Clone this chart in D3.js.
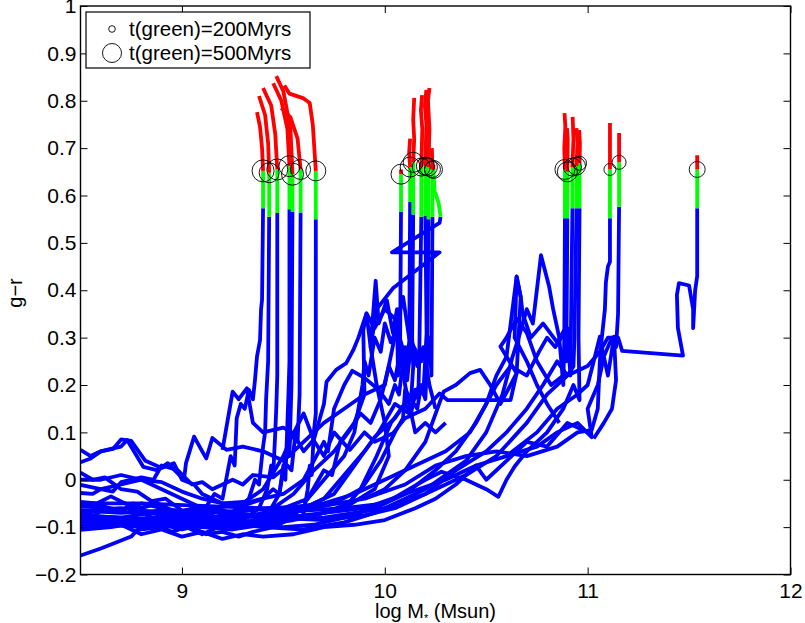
<!DOCTYPE html>
<html>
<head>
<meta charset="utf-8">
<script src="https://cdn.jsdelivr.net/npm/d3@7"></script>
<style>
  body { margin: 0; background: #fff; }
  svg text { font-family: "Liberation Sans", Arial, Helvetica, sans-serif; }
</style>
</head>
<body>
<div id="chart"></div>
<script>
// tick values
var xTicks = [9, 10, 11, 12];
var yTicks = [-0.2, -0.1, 0, 0.1, 0.2, 0.3, 0.4, 0.5, 0.6, 0.7, 0.8, 0.9, 1];

// legend
var legendLabels = ["t(green)=200Myrs", "t(green)=500Myrs"];
var legendRadius = [3.3, 9.5];

// blue part of every quenching track (log M*, g-r)
var bluePts = [
  // group near 9.4-9.66
  [[8.5,-0.07],[8.57,-0.075],[8.62,-0.06],[8.7,-0.065],[8.76,-0.05],[8.83,-0.075],[8.9,-0.065],[8.97,-0.08],[9.05,-0.06],[9.1,-0.07],[9.16,-0.03],[9.2,-0.04],[9.24,0.05],[9.26,0.03],[9.27,0.13],[9.29,0.16],[9.31,0.15],[9.33,0.19],[9.35,0.17],[9.36,0.21],[9.37,0.26],[9.385,0.295],[9.39,0.36],[9.395,0.38],[9.40,0.573]],
  [[8.5,0.015],[8.56,0.0],[8.62,0.005],[8.7,-0.02],[8.78,-0.025],[8.85,-0.045],[8.92,-0.04],[9.0,-0.065],[9.08,-0.06],[9.15,-0.08],[9.22,-0.075],[9.28,-0.06],[9.33,-0.04],[9.36,0.0],[9.38,-0.01],[9.40,0.07],[9.41,0.1],[9.415,0.17],[9.425,0.25],[9.43,0.555]],
  [[8.5,-0.1],[8.58,-0.09],[8.65,-0.095],[8.72,-0.085],[8.8,-0.1],[8.88,-0.095],[8.95,-0.11],[9.02,-0.1],[9.1,-0.115],[9.18,-0.1],[9.25,-0.095],[9.32,-0.08],[9.38,-0.06],[9.42,-0.02],[9.44,0.03],[9.45,0.01],[9.46,0.1],[9.465,0.15],[9.47,0.22],[9.47,0.563]],
  [[8.5,-0.047],[8.58,-0.05],[8.65,-0.035],[8.72,-0.05],[8.8,-0.06],[8.88,-0.05],[8.95,-0.065],[9.05,-0.075],[9.12,-0.07],[9.2,-0.085],[9.3,-0.075],[9.38,-0.08],[9.44,-0.06],[9.48,-0.03],[9.5,0.03],[9.51,0.0],[9.52,0.12],[9.525,0.18],[9.53,0.25],[9.53,0.571]],
  [[8.5,0.037],[8.55,0.045],[8.6,0.06],[8.66,0.065],[8.7,0.085],[8.75,0.082],[8.82,0.04],[8.9,0.025],[8.96,0.035],[9.0,0.0],[9.06,-0.01],[9.1,-0.03],[9.2,-0.05],[9.3,-0.055],[9.4,-0.04],[9.45,-0.02],[9.48,-0.03],[9.5,0.02],[9.52,0.07],[9.53,0.05],[9.54,0.2],[9.545,0.565]],
  [[8.5,-0.028],[8.56,-0.03],[8.6,-0.02],[8.66,-0.025],[8.7,-0.005],[8.8,0.005],[8.86,0.0],[8.9,0.03],[8.98,0.02],[9.05,-0.01],[9.1,-0.005],[9.15,-0.02],[9.25,0.0],[9.3,-0.01],[9.35,0.01],[9.45,0.005],[9.52,0.03],[9.54,0.02],[9.56,0.1],[9.57,0.08],[9.58,0.18],[9.585,0.564]],
  [[8.5,-0.085],[8.6,-0.08],[8.68,-0.09],[8.75,-0.085],[8.82,-0.1],[8.9,-0.095],[9.0,-0.105],[9.05,-0.1],[9.12,-0.115],[9.2,-0.11],[9.28,-0.12],[9.35,-0.11],[9.45,-0.1],[9.55,-0.08],[9.58,-0.06],[9.6,-0.07],[9.62,-0.02],[9.63,0.03],[9.64,0.01],[9.65,0.1],[9.66,0.14],[9.66,0.55]],
  // group near 10.1-10.27
  [[8.5,-0.057],[8.6,-0.055],[8.7,-0.065],[8.8,-0.05],[8.9,-0.06],[9.05,-0.07],[9.2,-0.065],[9.35,-0.075],[9.5,-0.06],[9.62,-0.04],[9.7,0.02],[9.74,0.01],[9.78,0.08],[9.85,0.12],[9.9,0.18],[9.894,0.316],[9.91,0.351],[9.93,0.28],[9.955,0.42],[9.97,0.33],[9.993,0.358],[10.01,0.379],[10.04,0.31],[10.06,0.36],[10.065,0.22],[10.075,0.25],[10.08,0.565]],
  [[8.5,-0.011],[8.6,-0.02],[8.7,-0.01],[8.8,0.0],[8.9,-0.005],[9.0,-0.025],[9.1,-0.04],[9.2,-0.05],[9.35,-0.045],[9.5,-0.03],[9.6,0.0],[9.65,0.04],[9.7,0.08],[9.72,0.06],[9.75,0.15],[9.8,0.2],[9.84,0.23],[9.9,0.215],[9.97,0.19],[10.02,0.16],[10.05,0.2],[10.07,0.18],[10.1,0.28],[10.11,0.21],[10.12,0.25],[10.125,0.587]],
  [[8.5,-0.099],[8.65,-0.095],[8.8,-0.1],[8.95,-0.09],[9.1,-0.1],[9.25,-0.105],[9.4,-0.095],[9.55,-0.085],[9.7,-0.07],[9.82,-0.05],[9.9,-0.01],[9.98,0.04],[10.05,0.1],[10.09,0.13],[10.1,0.19],[10.13,0.17],[10.14,0.239],[10.135,0.3],[10.14,0.56]],
  [[8.5,-0.075],[8.7,-0.08],[8.85,-0.07],[9.0,-0.085],[9.15,-0.09],[9.3,-0.08],[9.45,-0.07],[9.6,-0.065],[9.75,-0.05],[9.88,-0.02],[9.96,0.05],[10.03,0.12],[10.1,0.16],[10.13,0.14],[10.15,0.19],[10.165,0.17],[10.17,0.26],[10.18,0.555]],
  [[8.5,-0.106],[8.65,-0.1],[8.8,-0.09],[8.95,-0.095],[9.1,-0.1],[9.25,-0.09],[9.4,-0.085],[9.55,-0.07],[9.7,-0.04],[9.8,0.01],[9.9,0.06],[9.97,0.1],[10.05,0.16],[10.12,0.14],[10.17,0.2],[10.19,0.18],[10.206,0.309],[10.2,0.558]],
  [[8.5,-0.08],[8.7,-0.085],[8.85,-0.08],[9.0,-0.075],[9.2,-0.08],[9.4,-0.075],[9.6,-0.06],[9.75,-0.03],[9.85,0.03],[9.95,0.09],[10.05,0.13],[10.12,0.175],[10.16,0.15],[10.18,0.2],[10.2,0.17],[10.21,0.26],[10.215,0.55]],
  [[8.5,0.063],[8.55,0.05],[8.6,0.06],[8.65,0.065],[8.7,0.07],[8.73,0.084],[8.81,0.027],[8.88,0.02],[8.93,0.035],[9.01,0.0],[9.02,0.035],[9.06,0.091],[9.1,0.06],[9.12,0.045],[9.15,0.088],[9.22,0.063],[9.3,0.07],[9.4,0.06],[9.5,0.04],[9.6,0.08],[9.7,0.12],[9.8,0.15],[9.9,0.18],[10.0,0.2],[10.09,0.386],[10.12,0.3],[10.18,0.25],[10.22,0.3],[10.23,0.22],[10.235,0.555]],
  [[8.5,-0.09],[8.8,-0.095],[9.1,-0.085],[9.4,-0.09],[9.6,-0.08],[9.8,-0.06],[9.95,-0.02],[10.02,0.05],[10.0,0.12],[9.96,0.2],[9.93,0.28],[9.96,0.36],[10.04,0.404],[10.27,0.48],[10.035,0.48],[10.27,0.542],[10.275,0.555]],
  // group near 10.9-11.54
  [[8.5,-0.09],[8.75,-0.085],[9.0,-0.08],[9.2,-0.09],[9.4,-0.1],[9.6,-0.105],[9.8,-0.09],[9.95,-0.07],[10.1,-0.04],[10.2,-0.02],[10.3,0.01],[10.4,0.04],[10.5,0.1],[10.58,0.18],[10.63,0.26],[10.66,0.3],[10.7,0.36],[10.73,0.33],[10.77,0.474],[10.81,0.408],[10.83,0.36],[10.86,0.3],[10.88,0.2],[10.885,0.3],[10.888,0.552]],
  [[8.5,-0.065],[8.7,-0.07],[8.9,-0.065],[9.1,-0.07],[9.3,-0.065],[9.5,-0.06],[9.7,-0.05],[9.85,-0.03],[10.0,0.0],[10.15,0.03],[10.3,0.06],[10.42,0.1],[10.5,0.16],[10.55,0.22],[10.6,0.26],[10.65,0.429],[10.67,0.386],[10.68,0.35],[10.72,0.3],[10.78,0.33],[10.85,0.29],[10.89,0.32],[10.895,0.25],[10.9,0.552]],
  [[8.5,-0.16],[8.6,-0.145],[8.75,-0.12],[8.78,-0.106],[8.9,-0.1],[9.05,-0.09],[9.2,-0.1],[9.35,-0.095],[9.5,-0.1],[9.65,-0.095],[9.8,-0.08],[9.95,-0.06],[10.1,-0.03],[10.25,0.02],[10.35,0.06],[10.45,0.12],[10.55,0.2],[10.62,0.24],[10.7,0.22],[10.76,0.27],[10.8,0.3],[10.84,0.28],[10.9,0.32],[10.915,0.22],[10.92,0.4],[10.925,0.573]],
  [[8.5,-0.075],[8.7,-0.08],[8.95,-0.09],[9.2,-0.075],[9.45,-0.08],[9.7,-0.085],[9.9,-0.075],[10.05,-0.06],[10.2,-0.03],[10.35,0.02],[10.5,0.06],[10.6,0.1],[10.7,0.15],[10.78,0.2],[10.85,0.25],[10.9,0.22],[10.93,0.239],[10.935,0.3],[10.945,0.573]],
  [[8.5,0.0],[8.6,0.0],[8.7,0.01],[8.8,0.0],[8.9,-0.02],[9.0,-0.04],[9.1,-0.06],[9.2,-0.07],[9.4,-0.075],[9.6,-0.065],[9.8,-0.06],[10.0,-0.05],[10.2,0.0],[10.28,0.017],[10.4,0.0],[10.5,-0.02],[10.56,-0.036],[10.6,0.0],[10.64,0.028],[10.7,0.06],[10.8,0.1],[10.88,0.15],[10.93,0.2],[10.96,0.168],[10.955,0.3],[10.96,0.573]],
  [[8.5,-0.05],[8.8,-0.05],[9.1,-0.055],[9.4,-0.06],[9.7,-0.055],[9.9,-0.04],[10.1,-0.01],[10.25,0.03],[10.4,0.05],[10.55,0.06],[10.7,0.05],[10.85,0.07],[10.95,0.1],[11.02,0.105],[11.05,0.15],[11.06,0.25],[11.07,0.3],[11.085,0.36],[11.09,0.417],[11.1,0.45],[11.11,0.46],[11.11,0.552]],
  [[8.5,-0.095],[8.8,-0.09],[9.1,-0.095],[9.4,-0.085],[9.7,-0.07],[9.9,-0.06],[10.1,-0.03],[10.3,0.0],[10.45,0.03],[10.6,0.05],[10.75,0.07],[10.85,0.1],[10.95,0.12],[11.02,0.09],[11.0,0.15],[11.05,0.2],[11.08,0.26],[11.12,0.3],[11.14,0.28],[11.15,0.35],[11.155,0.576]],
  [[8.5,-0.08],[8.9,-0.085],[9.3,-0.09],[9.7,-0.08],[10.0,-0.06],[10.2,-0.03],[10.4,0.01],[10.55,0.05],[10.7,0.12],[10.8,0.18],[10.9,0.22],[11.0,0.24],[11.06,0.27],[11.1,0.3],[11.15,0.3],[11.17,0.272],[11.47,0.262],[11.445,0.32],[11.44,0.39],[11.45,0.415],[11.5,0.41],[11.52,0.36],[11.52,0.32],[11.53,0.4],[11.54,0.43],[11.54,0.573]]
];

// tracks that stay blue
var blueOnly = [
  [[9.2,0.063],[9.25,0.186],[9.28,0.17],[9.32,0.193],[9.35,0.12],[9.4,0.1],[9.5,0.11],[9.55,0.098],[9.6,0.14],[9.65,0.084],[9.7,0.16],[9.713,0.207],[9.76,0.232],[9.81,0.246],[9.845,0.274],[9.87,0.3],[9.91,0.351],[9.95,0.32],[10.0,0.36],[10.05,0.34]],
  [[8.5,-0.065],[8.7,-0.06],[8.9,-0.07],[9.1,-0.065],[9.3,-0.05],[9.4,-0.02],[9.5,0.05],[9.549,0.098],[9.6,0.06],[9.648,0.084],[9.7,0.05],[9.75,0.1],[9.828,0.063],[9.9,0.1],[9.95,0.08],[10.04,0.098],[10.1,0.13],[10.2,0.15],[10.27,0.182],[10.31,0.168],[10.62,0.168],[10.65,0.225],[10.6,0.26],[10.57,0.281],[10.6,0.3],[10.65,0.34],[10.7,0.31],[10.75,0.25],[10.82,0.2],[10.88,0.22]],
  [[9.9,-0.04],[10.0,-0.02],[10.1,0.02],[10.2,0.08],[10.29,0.186],[10.35,0.2],[10.42,0.225],[10.47,0.232],[10.52,0.2],[10.57,0.16],[10.62,0.2],[10.65,0.225],[10.67,0.386],[10.65,0.429],[10.64,0.3],[10.7,0.25],[10.75,0.2],[10.8,0.16],[10.86,0.12]],
  [[10.6,0.05],[10.75,0.1],[10.85,0.15],[10.95,0.18],[11.0,0.2],[11.03,0.25],[11.06,0.302],[11.08,0.26],[11.1,0.22],[11.13,0.302],[11.14,0.21],[11.12,0.15],[11.08,0.12],[11.03,0.087]],
  [[8.5,-0.09],[8.6,-0.1],[8.7,-0.095],[8.8,-0.115],[8.9,-0.105],[9.0,-0.12],[9.1,-0.11],[9.2,-0.125],[9.3,-0.115],[9.4,-0.12],[9.55,-0.115],[9.7,-0.1],[9.85,-0.095],[10.0,-0.085],[10.15,-0.06],[10.25,-0.04],[10.35,-0.01],[10.45,0.03],[10.5,0.0],[10.6,0.04],[10.7,0.08],[10.8,0.07],[10.9,0.12],[11.0,0.1]],
  [[9.6,-0.05],[9.7,0.0],[9.8,0.05],[9.85,0.1],[9.89,0.2],[9.9,0.25],[9.92,0.22],[9.95,0.3],[9.98,0.27],[10.0,0.33],[10.03,0.29],[10.06,0.32],[10.1,0.26],[10.13,0.3],[10.16,0.24],[10.19,0.28],[10.22,0.2],[10.25,0.15]],
  [[9.45,-0.06],[9.55,-0.03],[9.65,0.02],[9.75,0.06],[9.82,0.1],[9.88,0.14],[9.93,0.12],[9.98,0.17],[10.02,0.24],[10.05,0.21],[10.08,0.28],[10.1,0.2],[10.15,0.1],[10.2,0.12],[10.25,0.1],[10.3,0.12]]
];

// green part (starts where blue ends)
var greenPts = [
  [[9.40,0.652]], [[9.43,0.648]], [[9.47,0.655]], [[9.53,0.662]], [[9.545,0.645]], [[9.585,0.655]], [[9.66,0.652]],
  [[10.08,0.645]], [[10.125,0.66]], [[10.14,0.67]], [[10.18,0.66]], [[10.2,0.662]], [[10.215,0.66]], [[10.235,0.655]],
  [[10.265,0.585],[10.245,0.61],[10.24,0.655]],
  [[10.888,0.655]], [[10.9,0.65]], [[10.925,0.66]], [[10.945,0.662]], [[10.96,0.668]],
  [[11.11,0.655]], [[11.155,0.67]], [[11.54,0.655]]
];

// red part (starts where green ends)
var redPts = [
  [[9.395,0.70],[9.385,0.745],[9.37,0.776]],
  [[9.425,0.71],[9.41,0.77],[9.38,0.81]],
  [[9.46,0.73],[9.44,0.79],[9.40,0.827]],
  [[9.52,0.74],[9.49,0.80],[9.45,0.837]],
  [[9.535,0.74],[9.50,0.82],[9.465,0.852]],
  [[9.57,0.72],[9.535,0.765],[9.49,0.785]],
  [[9.645,0.75],[9.63,0.795],[9.60,0.805],[9.53,0.815],[9.505,0.832]],
  [[10.08,0.655]],
  [[10.12,0.69],[10.125,0.72]],
  [[10.145,0.72],[10.14,0.76],[10.145,0.806]],
  [[10.185,0.74],[10.178,0.78],[10.184,0.812]],
  [[10.205,0.75],[10.198,0.79],[10.205,0.823]],
  [[10.22,0.74],[10.213,0.8],[10.22,0.827]],
  [[10.232,0.70]],
  [[10.24,0.665]],
  [[10.885,0.7],[10.89,0.745],[10.886,0.774]],
  [[10.902,0.72],[10.898,0.742]],
  [[10.93,0.72],[10.926,0.766]],
  [[10.95,0.71],[10.945,0.742]],
  [[10.962,0.71],[10.958,0.738]],
  [[11.11,0.753]],
  [[11.155,0.732]],
  [[11.54,0.685]]
];

// circle size at the green/red switch
var circleR = [11, 10, 10.5, 10.5, 11, 10, 10, 10, 10, 10, 9, 9, 9, 8, 9, 10, 10, 9, 9, 7, 6, 7, 8];

var W = 805, H = 623;
var margin = { top: 6, right: 14.5, bottom: 48.5, left: 80.5 };
var width = W - margin.left - margin.right,
    height = H - margin.top - margin.bottom;

var svg = d3.select("#chart").append("svg")
  .attr("width", W)
  .attr("height", H);

var g = svg.append("g")
  .attr("transform", "translate(" + margin.left + "," + margin.top + ")");

var x = d3.scaleLinear().domain([8.5, 12]).range([0, width]);
var y = d3.scaleLinear().domain([-0.2, 1]).range([height, 0]);

g.append("clipPath").attr("id", "clip")
  .append("rect").attr("width", width).attr("height", height);

var line = d3.line()
  .x(function (d) { return x(d[0]); })
  .y(function (d) { return y(d[1]); });

var tracks = g.append("g").attr("clip-path", "url(#clip)");

function drawPath(pts, colour) {
  tracks.append("path").datum(pts)
    .attr("d", line).attr("fill", "none")
    .attr("stroke", colour).attr("stroke-width", 3.8)
    .attr("stroke-linejoin", "round");
}

// blue first so green / red sit on top
blueOnly.forEach(function (b) { drawPath(b, "#0000ff"); });
bluePts.forEach(function (b) { drawPath(b, "#0000ff"); });
greenPts.forEach(function (gp, i) {
  var b = bluePts[i];
  drawPath([b[b.length - 1]].concat(gp), "#00ff00");
});
redPts.forEach(function (rp, i) {
  var gp = greenPts[i];
  drawPath([gp[gp.length - 1]].concat(rp), "#ff0000");
});
greenPts.forEach(function (gp, i) {
  var c = gp[gp.length - 1];
  tracks.append("circle")
    .attr("cx", x(c[0])).attr("cy", y(c[1]))
    .attr("r", circleR[i])
    .attr("fill", "none").attr("stroke", "#000").attr("stroke-width", 0.9);
});

// axes, ticks pointing inward (matlab style)
var fmt = function (d) { return d3.format("~g")(d); };

g.append("g").attr("class", "x-axis")
  .attr("transform", "translate(0," + height + ")")
  .call(d3.axisBottom(x).tickValues(xTicks).tickSizeInner(-7).tickSizeOuter(0).tickPadding(9).tickFormat(fmt));
g.append("g").attr("class", "x-top")
  .call(d3.axisTop(x).tickValues(xTicks).tickSizeInner(-7).tickSizeOuter(0).tickFormat(""));
g.append("g").attr("class", "y-axis")
  .call(d3.axisLeft(y).tickValues(yTicks).tickSizeInner(-7).tickSizeOuter(0).tickPadding(4).tickFormat(fmt));
g.append("g").attr("class", "y-right")
  .attr("transform", "translate(" + width + ",0)")
  .call(d3.axisRight(y).tickValues(yTicks).tickSizeInner(-7).tickSizeOuter(0).tickFormat(""));

g.selectAll(".domain").remove();
g.selectAll(".tick line").attr("stroke", "#000").attr("stroke-width", 1);
g.selectAll(".tick text").attr("font-size", 21).attr("fill", "#000")
  .attr("font-family", "Liberation Sans, Arial, sans-serif");

g.append("rect")
  .attr("width", width).attr("height", height)
  .attr("fill", "none").attr("stroke", "#000").attr("stroke-width", 1.4);

// axis labels
var xl = svg.append("text")
  .attr("x", margin.left + width / 2).attr("y", 618)
  .attr("text-anchor", "middle").attr("font-size", 20);
xl.append("tspan").text("log M");
xl.append("tspan").attr("font-size", 11).attr("dy", 4).text("*");
xl.append("tspan").attr("dy", -4).text(" (Msun)");

svg.append("text")
  .attr("transform", "translate(22,293) rotate(-90)")
  .attr("text-anchor", "middle").attr("font-size", 20)
  .text("g\u2212r");

// legend
var lg = svg.append("g").attr("transform", "translate(86,12)");
lg.append("rect").attr("width", 224).attr("height", 56)
  .attr("fill", "#fff").attr("stroke", "#000").attr("stroke-width", 1.2);
legendLabels.forEach(function (t, i) {
  var cy = 17 + i * 24;
  lg.append("circle").attr("cx", 26).attr("cy", cy).attr("r", legendRadius[i])
    .attr("fill", "none").attr("stroke", "#000").attr("stroke-width", 0.9);
  lg.append("text").attr("x", 43).attr("y", cy + 7).attr("font-size", 20.5).text(t);
});
</script>
</body>
</html>
